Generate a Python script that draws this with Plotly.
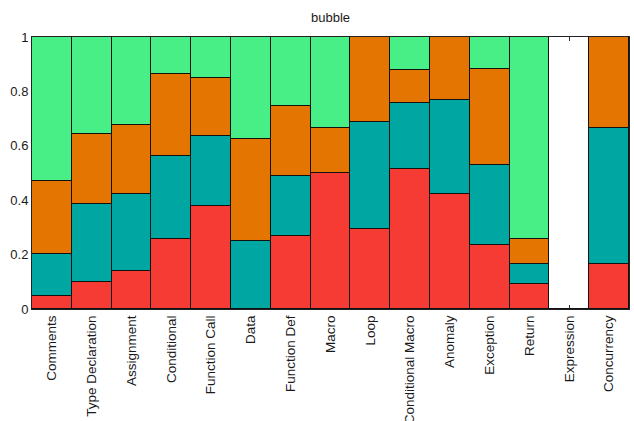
import plotly.graph_objects as go

categories = [
    "Comments", "Type Declaration", "Assignment", "Conditional", "Function Call",
    "Data", "Function Def", "Macro", "Loop", "Conditional Macro",
    "Anomaly", "Exception", "Return", "Expression", "Concurrency",
]

# Share of each category per group (stacked to 1)
red_vals    = [0.048, 0.099, 0.141, 0.258, 0.378, 0.000, 0.268, 0.500, 0.294, 0.515, 0.424, 0.235, 0.092, 0.0, 0.167]
teal_vals   = [0.155, 0.287, 0.283, 0.304, 0.258, 0.250, 0.222, 0.000, 0.393, 0.243, 0.346, 0.295, 0.074, 0.0, 0.500]
orange_vals = [0.266, 0.257, 0.254, 0.301, 0.212, 0.374, 0.255, 0.167, 0.313, 0.122, 0.230, 0.352, 0.093, 0.0, 0.333]
green_vals  = [0.531, 0.357, 0.322, 0.137, 0.152, 0.376, 0.255, 0.333, 0.000, 0.120, 0.000, 0.118, 0.741, 0.0, 0.000]

series = [
    ("Group 1", red_vals, "#F63A34"),
    ("Group 2", teal_vals, "#00A6A1"),
    ("Group 3", orange_vals, "#E47500"),
    ("Group 4", green_vals, "#48EF86"),
]

y_ticks = [0, 0.2, 0.4, 0.6, 0.8, 1]
y_tick_text = ["0", "0.2", "0.4", "0.6", "0.8", "1"]

font_family = "Liberation Sans, Arial, sans-serif"

fig = go.Figure()
for name, vals, color in series:
    fig.add_trace(go.Bar(
        x=categories,
        y=vals,
        name=name,
        marker=dict(color=color, line=dict(color="#111111", width=1.2)),
        showlegend=False,
    ))

fig.update_layout(
    barmode="stack",
    bargap=0,
    width=634,
    height=421,
    margin=dict(l=32, r=5, t=37, b=112),
    paper_bgcolor="white",
    plot_bgcolor="white",
    font=dict(family=font_family, size=13, color="#1a1a1a"),
    title=dict(
        text="bubble",
        x=0.5, xref="paper", xanchor="center",
        y=1 - 17.5 / 421, yref="container", yanchor="middle",
        font=dict(family=font_family, size=13, color="#1a1a1a"),
    ),
)

fig.update_xaxes(
    tickangle=-90,
    tickfont=dict(size=13.5),
    ticks="inside", ticklen=4, tickcolor="#333333", tickwidth=1,
    showline=True, linecolor="#222222", linewidth=1, mirror="ticks",
    showgrid=False, layer="below traces", automargin=False,
)
fig.update_yaxes(
    range=[0, 1],
    tickvals=y_ticks, ticktext=y_tick_text,
    tickfont=dict(size=13),
    ticks="",
    showline=True, linecolor="#222222", linewidth=1, mirror=True,
    showgrid=False, zeroline=False, layer="below traces", automargin=False,
)

fig.write_html("out.html")
